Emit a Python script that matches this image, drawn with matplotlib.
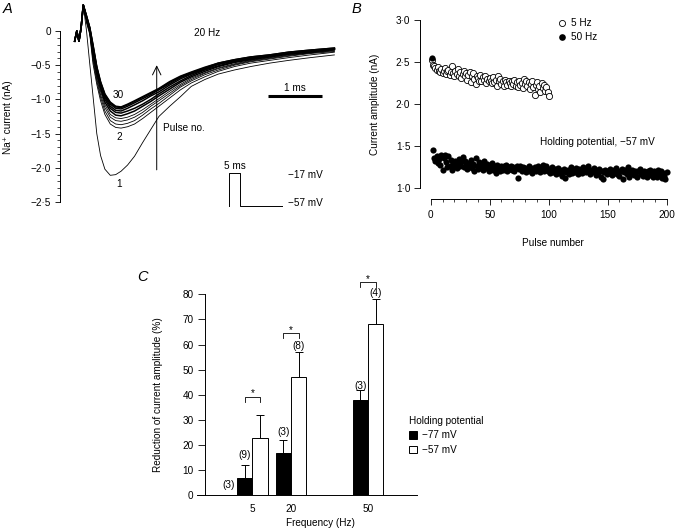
import matplotlib
matplotlib.use('Agg')
import numpy as np
import matplotlib.pyplot as plt
from matplotlib.ticker import MultipleLocator, FuncFormatter
from matplotlib.lines import Line2D

FS = 7.2
plt.rcParams['font.family'] = ['Liberation Sans', 'DejaVu Sans']
plt.rcParams['font.size'] = FS
plt.rcParams['axes.linewidth'] = 0.7

# ---- panel A: Na+ currents during a 20 Hz train (ms, nA) ----
t_pre = [-0.16, -0.12, -0.08, -0.04, 0.0]
t_post = [0.06, 0.12, 0.18, 0.25, 0.32, 0.40, 0.50, 0.60, 0.70, 0.82, 0.95, 1.1, 1.25,
          1.4, 1.6, 1.8, 2.0, 2.25, 2.5, 2.8, 3.1, 3.45, 3.8, 4.2, 4.65]
pre_spike = [-0.15, 0.0, -0.15, 0.05, 0.38]

pulse_1 = [0.0, -0.48, -0.95, -1.50, -1.82, -2.02, -2.11, -2.10, -2.05, -1.96, -1.83, -1.63, -1.44,
           -1.25, -1.10, -0.96, -0.81, -0.71, -0.63, -0.57, -0.52, -0.47, -0.43, -0.39, -0.35]
pulse_2 = [0.12, -0.05, -0.48, -0.78, -1.02, -1.22, -1.36, -1.41, -1.42, -1.40, -1.36, -1.28, -1.19,
           -1.10, -0.98, -0.86, -0.76, -0.67, -0.59, -0.52, -0.47, -0.43, -0.39, -0.35, -0.31]
pulse_3 = [0.14, -0.03, -0.43, -0.73, -0.97, -1.17, -1.31, -1.36, -1.37, -1.35, -1.31, -1.23, -1.14,
           -1.06, -0.94, -0.82, -0.73, -0.64, -0.57, -0.50, -0.45, -0.41, -0.37, -0.33, -0.30]
pulse_4 = [0.15, -0.02, -0.39, -0.69, -0.93, -1.12, -1.26, -1.31, -1.32, -1.30, -1.26, -1.19, -1.10,
           -1.02, -0.91, -0.80, -0.71, -0.62, -0.55, -0.49, -0.44, -0.40, -0.36, -0.32, -0.29]
pulse_5 = [0.17, 0.0, -0.35, -0.65, -0.88, -1.08, -1.22, -1.27, -1.28, -1.26, -1.22, -1.15, -1.07,
           -0.99, -0.88, -0.78, -0.69, -0.61, -0.54, -0.48, -0.43, -0.39, -0.35, -0.32, -0.28]
pulse_7 = [0.18, 0.01, -0.31, -0.61, -0.84, -1.04, -1.17, -1.23, -1.24, -1.21, -1.17, -1.10, -1.03,
           -0.95, -0.85, -0.75, -0.67, -0.59, -0.52, -0.46, -0.42, -0.38, -0.34, -0.31, -0.27]
pulse_10 = [0.19, 0.02, -0.28, -0.58, -0.81, -1.00, -1.13, -1.19, -1.20, -1.17, -1.13, -1.07, -1.00,
            -0.92, -0.82, -0.73, -0.65, -0.57, -0.51, -0.45, -0.41, -0.37, -0.33, -0.30, -0.27]
pulse_15 = [0.20, 0.03, -0.25, -0.56, -0.79, -0.97, -1.10, -1.16, -1.17, -1.13, -1.08, -1.02, -0.95,
            -0.89, -0.79, -0.70, -0.63, -0.56, -0.49, -0.44, -0.40, -0.36, -0.32, -0.29, -0.26]
pulse_20 = [0.21, 0.04, -0.23, -0.54, -0.77, -0.95, -1.07, -1.13, -1.14, -1.10, -1.05, -0.99, -0.93,
            -0.86, -0.77, -0.68, -0.62, -0.55, -0.48, -0.43, -0.39, -0.36, -0.32, -0.29, -0.26]
pulse_25 = [0.22, 0.05, -0.21, -0.53, -0.75, -0.93, -1.05, -1.11, -1.12, -1.08, -1.03, -0.97, -0.91,
            -0.85, -0.75, -0.67, -0.61, -0.54, -0.47, -0.42, -0.38, -0.35, -0.31, -0.28, -0.25]
pulse_30 = [0.22, 0.05, -0.20, -0.52, -0.74, -0.92, -1.04, -1.10, -1.11, -1.07, -1.02, -0.96, -0.90,
            -0.84, -0.74, -0.66, -0.60, -0.53, -0.47, -0.42, -0.38, -0.35, -0.31, -0.28, -0.25]

protocol_ms = [0, 0, 5, 5, 25]
protocol_mv = [-57, -17, -17, -57, -57]

# ---- panel B: amplitude vs pulse number (nA) ----
amp_5hz = [
    2.52, 2.47, 2.45, 2.43, 2.41, 2.44, 2.40, 2.38, 2.42, 2.37,
    2.40, 2.43, 2.36, 2.39, 2.41, 2.35, 2.38, 2.45, 2.37, 2.33,
    2.40, 2.36, 2.42, 2.34, 2.38, 2.31, 2.36, 2.40, 2.33, 2.37,
    2.29, 2.35, 2.38, 2.26, 2.33, 2.37, 2.30, 2.24, 2.34, 2.31,
    2.28, 2.35, 2.27, 2.32, 2.29, 2.33, 2.25, 2.30, 2.27, 2.31,
    2.28, 2.25, 2.32, 2.26, 2.29, 2.22, 2.33, 2.27, 2.30, 2.24,
    2.28, 2.21, 2.29, 2.26, 2.23, 2.28, 2.25, 2.21, 2.27, 2.24,
    2.29, 2.22, 2.26, 2.20, 2.28, 2.23, 2.25, 2.19, 2.30, 2.24,
    2.27, 2.21, 2.26, 2.18, 2.24, 2.27, 2.20, 2.11, 2.23, 2.26,
    2.18, 2.22, 2.15, 2.25, 2.19, 2.23, 2.16, 2.20, 2.14, 2.10]
amp_50hz = [
    2.55, 1.45, 1.36, 1.33, 1.38, 1.30, 1.35, 1.28, 1.39, 1.22,
    1.36, 1.40, 1.31, 1.25, 1.38, 1.27, 1.34, 1.22, 1.30, 1.26,
    1.33, 1.24, 1.29, 1.35, 1.27, 1.31, 1.37, 1.25, 1.32, 1.28,
    1.23, 1.30, 1.26, 1.34, 1.24, 1.29, 1.21, 1.36, 1.27, 1.23,
    1.31, 1.25, 1.28, 1.22, 1.33, 1.26, 1.24, 1.29, 1.21, 1.27,
    1.24, 1.30, 1.22, 1.26, 1.18, 1.28, 1.23, 1.25, 1.20, 1.27,
    1.22, 1.26, 1.24, 1.28, 1.21, 1.25, 1.23, 1.27, 1.22, 1.25,
    1.20, 1.24, 1.26, 1.12, 1.23, 1.27, 1.21, 1.25, 1.22, 1.24,
    1.19, 1.23, 1.26, 1.21, 1.24, 1.18, 1.22, 1.25, 1.20, 1.23,
    1.27, 1.22, 1.19, 1.25, 1.28, 1.21, 1.24, 1.26, 1.20, 1.23,
    1.18, 1.22, 1.25, 1.19, 1.23, 1.17, 1.21, 1.24, 1.18, 1.22,
    1.15, 1.20, 1.23, 1.12, 1.19, 1.22, 1.17, 1.21, 1.25, 1.18,
    1.22, 1.19, 1.24, 1.20, 1.17, 1.23, 1.21, 1.18, 1.25, 1.20,
    1.23, 1.19, 1.26, 1.21, 1.17, 1.22, 1.19, 1.24, 1.20, 1.16,
    1.21, 1.18, 1.23, 1.14, 1.20, 1.11, 1.19, 1.22, 1.17, 1.21,
    1.18, 1.23, 1.20, 1.16, 1.22, 1.19, 1.24, 1.17, 1.21, 1.15,
    1.20, 1.23, 1.11, 1.19, 1.22, 1.17, 1.25, 1.13, 1.20, 1.18,
    1.22, 1.16, 1.21, 1.19, 1.14, 1.20, 1.23, 1.17, 1.19, 1.15,
    1.21, 1.18, 1.13, 1.20, 1.16, 1.22, 1.18, 1.14, 1.21, 1.17,
    1.19, 1.13, 1.22, 1.16, 1.20, 1.12, 1.18, 1.15, 1.11, 1.19]
pulse_5hz = list(range(1, len(amp_5hz) + 1))
pulse_50hz = list(range(1, len(amp_50hz) + 1))

# ---- panel C: reduction of current amplitude (%) ----
freq = np.array([5, 20, 50])
freq_labels = ['5', '20', '50']
red_77 = [7, 17, 38]
err_77 = [5, 5, 4]
red_57 = [23, 47, 68]
err_57 = [9, 10, 10]
n_77 = ['(3)', '(3)', '(3)']
n_57 = ['(9)', '(8)', '(4)']
n_77_y = [4, 25.3, 43.5]
n_57_y = [16, 59.6, 80.5]
bracket_y = [39.3, 64.5, 85.0]

W, H = 676, 528
fig = plt.figure(figsize=(W / 100, H / 100), dpi=100)


def px_axes(left, top, right, bottom):
    return fig.add_axes([left / W, 1 - bottom / H, (right - left) / W, (bottom - top) / H])


def dot_fmt(v, pos):
    if abs(v) < 1e-9:
        return '0'
    return f'{v:.1f}'.replace('.', '\u00b7').replace('-', '\u2212')


# ---------------- A ----------------
axA = px_axes(60, 0, 340, 210)
t_ms = t_pre + t_post
thin = [pulse_1, pulse_2, pulse_3, pulse_4, pulse_5]
bundle = [pulse_7, pulse_10, pulse_15, pulse_20, pulse_25, pulse_30]
for tr in thin:
    axA.plot(t_ms, pre_spike + tr, color='black', lw=0.6)
for tr in bundle:
    axA.plot(t_ms, pre_spike + tr, color='black', lw=1.1)
axA.set_xlim(-0.431, 4.754)
axA.set_ylim(-2.617, 0.453)
for s in ['top', 'right', 'bottom']:
    axA.spines[s].set_visible(False)
axA.spines['left'].set_bounds(-2.5, 0)
axA.set_xticks([])
axA.set_yticks([-2.5, -2.0, -1.5, -1.0, -0.5, 0])
axA.set_yticks(np.arange(-25, 1) / 10, minor=True)
axA.yaxis.set_major_formatter(FuncFormatter(dot_fmt))
axA.tick_params(axis='y', which='major', length=3.6, width=0.6, pad=3, labelsize=FS)
axA.tick_params(axis='y', which='minor', length=2.4, width=0.5)
axA.set_ylabel('Na\u207a current (nA)', fontsize=FS)
axA.yaxis.set_label_coords(-0.168, 0.443)

axA.plot([3.42, 4.42], [-0.946, -0.946], color='black', lw=2.2, solid_capstyle='butt')
axA.text(3.92, -0.83, '1 ms', ha='center', va='center')
axA.text(2.29, -0.034, '20 Hz', ha='center', va='center')
axA.annotate('', xy=(1.36, -0.50), xytext=(1.36, -2.03),
             arrowprops=dict(arrowstyle='->,head_length=0.86,head_width=0.42',
                             lw=0.7, color='black', shrinkA=0, shrinkB=0))
axA.text(1.48, -1.42, 'Pulse no.', ha='left', va='center')
axA.text(0.65, -0.93, '30', ha='center', va='center')
axA.text(0.67, -1.55, '2', ha='center', va='center')
axA.text(0.66, -2.24, '1', ha='center', va='center')

axP = px_axes(229, 173.3, 281.7, 206)
axP.plot(protocol_ms, protocol_mv, color='black', lw=0.7, clip_on=False)
axP.set_xlim(0, 25)
axP.set_ylim(-57, -17)
axP.axis('off')
axP.text(0.114, 1.23, '5 ms', transform=axP.transAxes, ha='center', va='center')
axP.text(1.125, 0.95, '\u221217 mV', transform=axP.transAxes, ha='left', va='center')
axP.text(1.125, 0.08, '\u221257 mV', transform=axP.transAxes, ha='left', va='center')

fig.text(8 / W, 1 - 9 / H, 'A', style='italic', fontsize=10.5, ha='center', va='center')

# ---------------- B ----------------
axB = px_axes(420, 10, 676, 199)
axB.scatter(pulse_5hz, amp_5hz, s=20, facecolors='white', edgecolors='black',
            linewidths=0.6, zorder=2)
axB.scatter(pulse_50hz, amp_50hz, s=20, color='black', linewidths=0, zorder=3)
axB.set_xlim(-9.07, 207.9)
axB.set_ylim(0.873, 3.119)
for s in ['top', 'right']:
    axB.spines[s].set_visible(False)
axB.spines['left'].set_bounds(1.0, 3.0)
axB.spines['bottom'].set_bounds(0, 200)
axB.set_yticks([1.0, 1.5, 2.0, 2.5, 3.0])
axB.yaxis.set_major_formatter(FuncFormatter(dot_fmt))
axB.set_xticks([0, 50, 100, 150, 200])
axB.xaxis.set_minor_locator(MultipleLocator(10))
axB.tick_params(axis='y', length=4, width=0.6, pad=3, labelsize=FS)
axB.tick_params(axis='x', which='major', length=4, width=0.6, pad=4, labelsize=FS)
axB.tick_params(axis='x', which='minor', length=2.5, width=0.5)
axB.set_ylabel('Current amplitude (nA)', fontsize=FS)
axB.yaxis.set_label_coords(-0.156, 0.503)
axB.set_xlabel('Pulse number', fontsize=FS)
axB.xaxis.set_label_coords(0.52, -0.206)
axB.text(0.469, 0.303, 'Holding potential, \u221257 mV', transform=axB.transAxes,
         ha='left', va='center')
handles_B = [Line2D([], [], marker='o', ls='none', mfc='white', mec='black', mew=0.6, ms=4.4),
             Line2D([], [], marker='o', ls='none', mfc='black', mec='black', mew=0, ms=4.8)]
axB.legend(handles_B, ['5 Hz', '50 Hz'], loc='upper left', bbox_to_anchor=(558 / W, 1 - 18 / H),
           bbox_transform=fig.transFigure, frameon=False, handlelength=0.8,
           handletextpad=0.5, labelspacing=0.45, borderpad=0, borderaxespad=0, fontsize=FS)

fig.text(356 / W, 1 - 9 / H, 'B', style='italic', fontsize=10.5, ha='center', va='center')

# ---------------- C ----------------
axC = px_axes(197, 269.2, 416.7, 495.3)
bar_w = 6
x77 = freq - bar_w / 2
x57 = freq + bar_w / 2
bars77 = axC.bar(x77, red_77, bar_w, color='black', edgecolor='black', lw=0.7, zorder=2)
bars57 = axC.bar(x57, red_57, bar_w, color='white', edgecolor='black', lw=0.7, zorder=2)
axC.errorbar(x77, red_77, yerr=[np.zeros(3), err_77], fmt='none', ecolor='black',
             elinewidth=0.7, capsize=2.9, capthick=0.7, zorder=1)
axC.errorbar(x57, red_57, yerr=[np.zeros(3), err_57], fmt='none', ecolor='black',
             elinewidth=0.7, capsize=2.9, capthick=0.7, zorder=1)

# n numbers
axC.text(x77[0] - 6.4, n_77_y[0], n_77[0], ha='center', va='center')
for i in range(1, 3):
    axC.text(x77[i], n_77_y[i], n_77[i], ha='center', va='center')
axC.text(x77[0], n_57_y[0], n_57[0], ha='center', va='center')
for i in range(1, 3):
    axC.text(x57[i], n_57_y[i], n_57[i], ha='center', va='center')

# significance brackets
for i in range(3):
    y = bracket_y[i]
    axC.plot([x77[i], x77[i], x57[i], x57[i]], [y - 2, y, y, y - 2], color='black',
             lw=0.6, clip_on=False)
    axC.text(freq[i], y + 1.2, '*', ha='center', va='center', fontsize=FS)

axC.set_xlim(-16.6, 69.0)
axC.set_ylim(0, 90)
for s in ['top', 'right']:
    axC.spines[s].set_visible(False)
axC.spines['left'].set_position(('data', -13.5))
axC.spines['left'].set_bounds(0, 80)
axC.set_yticks(range(0, 81, 10))
axC.set_xticks(freq)
axC.set_xticklabels(freq_labels)
axC.tick_params(axis='y', length=5.2, width=0.6, pad=3, labelsize=FS)
axC.tick_params(axis='x', length=0, pad=6, labelsize=FS)
axC.set_ylabel('Reduction of current amplitude (%)', fontsize=FS)
axC.yaxis.set_label_coords(-0.156, 0.444)
axC.set_xlabel('Frequency (Hz)', fontsize=FS)
axC.xaxis.set_label_coords(0.56, -0.10)
axC.legend([bars77, bars57], ['\u221277 mV', '\u221257 mV'], title='Holding potential',
           loc='upper left', bbox_to_anchor=(409 / W, 1 - 416 / H), bbox_transform=fig.transFigure,
           frameon=False, handlelength=0.8, handleheight=0.8, handletextpad=0.5,
           labelspacing=0.45, borderpad=0, borderaxespad=0, fontsize=FS, title_fontsize=FS,
           alignment='left')

fig.text(143 / W, 1 - 277 / H, 'C', style='italic', fontsize=10.5, ha='center', va='center')

fig.savefig('out.png', dpi=100)
